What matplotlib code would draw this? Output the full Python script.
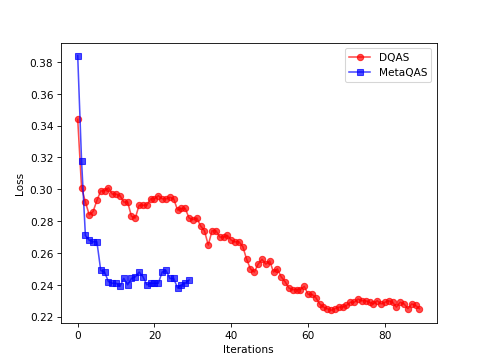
import numpy as np
import matplotlib
matplotlib.use("Agg")
import matplotlib.pyplot as plt

# loss values
dqas_loss = [
    0.344, 0.301, 0.292, 0.284, 0.286, 0.293, 0.299, 0.299, 0.301, 0.297,
    0.297, 0.296, 0.292, 0.292, 0.283, 0.282, 0.290, 0.290, 0.290, 0.294,
    0.294, 0.296, 0.294, 0.294, 0.295, 0.294, 0.287, 0.288, 0.288, 0.282,
    0.281, 0.282, 0.277, 0.274, 0.265, 0.274, 0.274, 0.270, 0.270, 0.271,
    0.268, 0.267, 0.267, 0.264, 0.256, 0.250, 0.248, 0.253, 0.256, 0.253,
    0.255, 0.248, 0.250, 0.245, 0.242, 0.238, 0.237, 0.237, 0.237, 0.239,
    0.234, 0.234, 0.232, 0.228, 0.226, 0.225, 0.224, 0.225, 0.226, 0.226,
    0.227, 0.229, 0.229, 0.231, 0.230, 0.230, 0.229, 0.228, 0.230, 0.228,
    0.229, 0.230, 0.229, 0.226, 0.229, 0.228, 0.225, 0.228, 0.227, 0.225,
]
metaqas_loss = [
    0.384, 0.318, 0.271, 0.268, 0.267, 0.267, 0.249, 0.248, 0.242, 0.241,
    0.241, 0.239, 0.244, 0.240, 0.244, 0.245, 0.248, 0.245, 0.240, 0.241,
    0.241, 0.241, 0.248, 0.249, 0.244, 0.244, 0.238, 0.240, 0.241, 0.243,
]


def main():
    fig = plt.figure(figsize=(6.4, 4.8), dpi=485 / 6.4)
    plt.plot(np.arange(len(dqas_loss)), dqas_loss, 'o-', color='red', alpha=0.7, label='DQAS')
    plt.plot(np.arange(len(metaqas_loss)), metaqas_loss, 's-', color='blue', alpha=0.7, label='MetaQAS')
    plt.xlabel("Iterations")
    plt.ylabel("Loss")
    plt.legend(loc='upper right')
    fig.savefig("out.png")
    plt.close(fig)


if __name__ == "__main__":
    main()
